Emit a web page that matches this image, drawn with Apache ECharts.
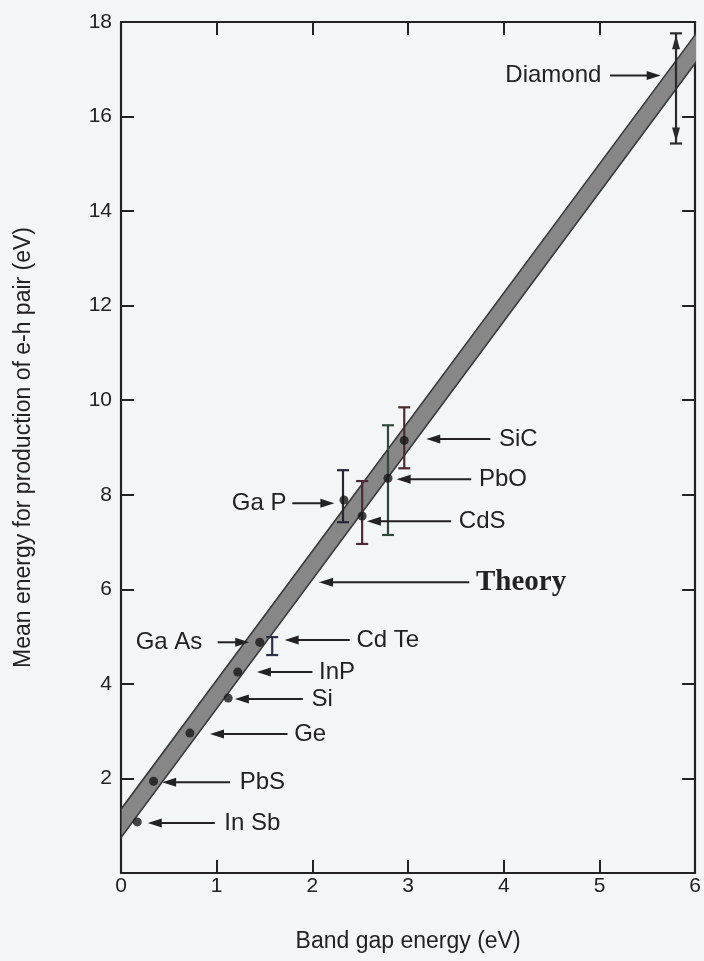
<!DOCTYPE html>
<html><head><meta charset="utf-8">
<script src="https://cdn.jsdelivr.net/npm/echarts@6/dist/echarts.min.js"></script>
<style>html,body{margin:0;padding:0;background:#f4f5f7}#c{width:704px;height:961px}</style>
</head><body><div id="c"></div>
<script>
// Theory band (lower / upper edge)
const theoryX = [0, 6.1];
const theoryLow = [0.75, 17.40];
const theoryHigh = [1.35, 18.0];

// Measured points
const pointNames = ['In Sb','PbS','Ge','Si','InP','Ga As','Ga P','CdS','PbO','SiC'];
const pointX = [0.17,0.34,0.72,1.12,1.22,1.45,2.33,2.52,2.79,2.96];
const pointY = [1.08,1.94,2.96,3.70,4.25,4.88,7.89,7.55,8.35,9.15];

// Error bars
const errNames = ['Cd Te','Ga P','CdS','PbO','SiC','Diamond'];
const errX = [1.58,2.32,2.52,2.79,2.96,5.80];
const errLow = [4.61,7.42,6.96,7.15,8.56,15.43];
const errHigh = [4.99,8.52,8.29,9.47,9.85,17.76];

// Annotations (label + arrow)
const labelNames = ['In Sb','PbS','Ge','Si','InP','Ga As','Cd Te','Theory','Ga P','CdS','PbO','SiC','Diamond'];
const labelY = [1.06,1.92,2.94,3.68,4.25,4.88,4.93,6.15,7.82,7.44,8.33,9.18,16.87];
const arrowTailX = [0.98,1.14,1.74,1.90,2.00,1.01,2.39,3.64,1.79,3.45,3.66,3.86,5.11];
const arrowTipX = [0.28,0.43,0.93,1.19,1.42,1.34,1.71,2.07,2.23,2.57,2.88,3.19,5.64];
const labelX = [1.08,1.24,1.81,1.99,2.07,0.85,2.46,3.71,1.73,3.53,3.74,3.95,5.02];

// Tick labels
const xTickLabels = [0,1,2,3,4,5,6];
const yTickLabels = [2,4,6,8,10,12,14,16,18];

const barColors = {'Cd Te':'#2e2f4a','Ga P':'#262637','CdS':'#4d2a36','PbO':'#2f4a3c','SiC':'#4a2c30','Diamond':'#2a2a2a'};
const INK = '#222';
const SANS = "'Liberation Sans', Arial, Helvetica, sans-serif";

const chart = echarts.init(document.getElementById('c'), null, {renderer:'canvas'});

function axisCommon(showLabels, isX){
  return {
    type:'value',
    axisLine:{show:true, onZero:false, lineStyle:{color:INK, width:2.2}},
    axisTick:{show:true, inside:true, length:13, lineStyle:{color:INK, width:2}},
    splitLine:{show:false},
    axisLabel: showLabels ? {
      show:true, color:INK, fontFamily:SANS, fontSize:21, margin: isX ? 3 : 9,
      formatter: v => (isX ? xTickLabels : yTickLabels).indexOf(v) >= 0 ? String(v) : ''
    } : {show:false}
  };
}

const option = {
  backgroundColor:'#f4f5f7',
  animation:false,
  grid:{left:121, right:6, top:22, bottom:88},
  xAxis:[
    Object.assign(axisCommon(true,true), {min:0, max:6, interval:1, position:'bottom',
      name:'Band gap energy (eV)', nameLocation:'middle', nameGap:57,
      nameTextStyle:{color:INK, fontFamily:SANS, fontSize:23}}),
    Object.assign(axisCommon(false,true), {min:0, max:6, interval:1, position:'top'})
  ],
  yAxis:[
    Object.assign(axisCommon(true,false), {min:0, max:18, interval:2, position:'left',
      name:'Mean energy for production of e-h pair (eV)', nameLocation:'middle', nameGap:86,
      nameTextStyle:{color:INK, fontFamily:SANS, fontSize:23}}),
    Object.assign(axisCommon(false,false), {min:0, max:18, interval:2, position:'right'})
  ],
  series:[
    {
      type:'custom', name:'Theory band', clip:true, z:1,
      data:[[theoryX[0], theoryLow[0]]],
      renderItem:(params, api) => {
        const pts = [
          api.coord([theoryX[0], theoryLow[0]]),
          api.coord([theoryX[1], theoryLow[1]]),
          api.coord([theoryX[1], theoryHigh[1]]),
          api.coord([theoryX[0], theoryHigh[0]])
        ];
        return {type:'polygon', shape:{points:pts},
          style:{fill:'#878787', stroke:'#3a3a3a', lineWidth:1.6}};
      }
    },
    {
      type:'custom', name:'Error bars', z:3,
      data: errX.map((x,i)=>[x, errLow[i], errHigh[i]]),
      encode:{x:0, y:[1,2]},
      renderItem:(params, api) => {
        const i = params.dataIndex;
        const lo = api.coord([api.value(0), api.value(1)]);
        const hi = api.coord([api.value(0), api.value(2)]);
        const col = barColors[errNames[i]];
        const st = {stroke:col, lineWidth:2.2};
        const children = [
          {type:'line', shape:{x1:lo[0], y1:lo[1], x2:hi[0], y2:hi[1]}, style:st},
          {type:'line', shape:{x1:lo[0]-6, y1:lo[1], x2:lo[0]+6, y2:lo[1]}, style:st},
          {type:'line', shape:{x1:hi[0]-6, y1:hi[1], x2:hi[0]+6, y2:hi[1]}, style:st}
        ];
        if (errNames[i] === 'Diamond') {
          children.push({type:'polygon', shape:{points:[[hi[0],hi[1]+2],[hi[0]-4,hi[1]+16],[hi[0]+4,hi[1]+16]]}, style:{fill:col}});
          children.push({type:'polygon', shape:{points:[[lo[0],lo[1]-2],[lo[0]-4,lo[1]-16],[lo[0]+4,lo[1]-16]]}, style:{fill:col}});
        }
        return {type:'group', children};
      }
    },
    {
      type:'scatter', name:'Measured', z:4,
      data: pointX.map((x,i)=>[x, pointY[i]]),
      symbol:'circle', symbolSize:9,
      itemStyle:{color:'#161616'}
    },
    {
      type:'custom', name:'Arrows', z:5,
      data: labelY.map((y,i)=>[arrowTailX[i], y, arrowTipX[i]]),
      encode:{x:[0,2], y:1},
      renderItem:(params, api) => {
        const p1 = api.coord([api.value(0), api.value(1)]);
        const p2 = api.coord([api.value(2), api.value(1)]);
        const d = p2[0] > p1[0] ? 1 : -1;
        const st = {stroke:INK, lineWidth:2};
        return {type:'group', children:[
          {type:'line', shape:{x1:p1[0], y1:p1[1], x2:p2[0]-d*8, y2:p2[1]}, style:st},
          {type:'polygon', shape:{points:[[p2[0],p2[1]],[p2[0]-d*14,p2[1]-4.5],[p2[0]-d*14,p2[1]+4.5]]}, style:{fill:INK}}
        ]};
      }
    },
    {
      type:'custom', name:'Labels', z:6,
      data: labelY.map((y,i)=>[labelX[i], y]),
      renderItem:(params, api) => {
        const i = params.dataIndex;
        const p = api.coord([api.value(0), api.value(1)]);
        const right = arrowTipX[i] > arrowTailX[i];
        const isTheory = labelNames[i] === 'Theory';
        return {type:'text', x:p[0], y:p[1], style:{
          text:labelNames[i], fill:INK,
          font: isTheory ? "bold 29px 'Liberation Serif', 'Times New Roman', serif" : "24px " + SANS,
          align: right ? 'right' : 'left', verticalAlign:'middle'
        }};
      }
    }
  ]
};
chart.setOption(option);
</script></body></html>
